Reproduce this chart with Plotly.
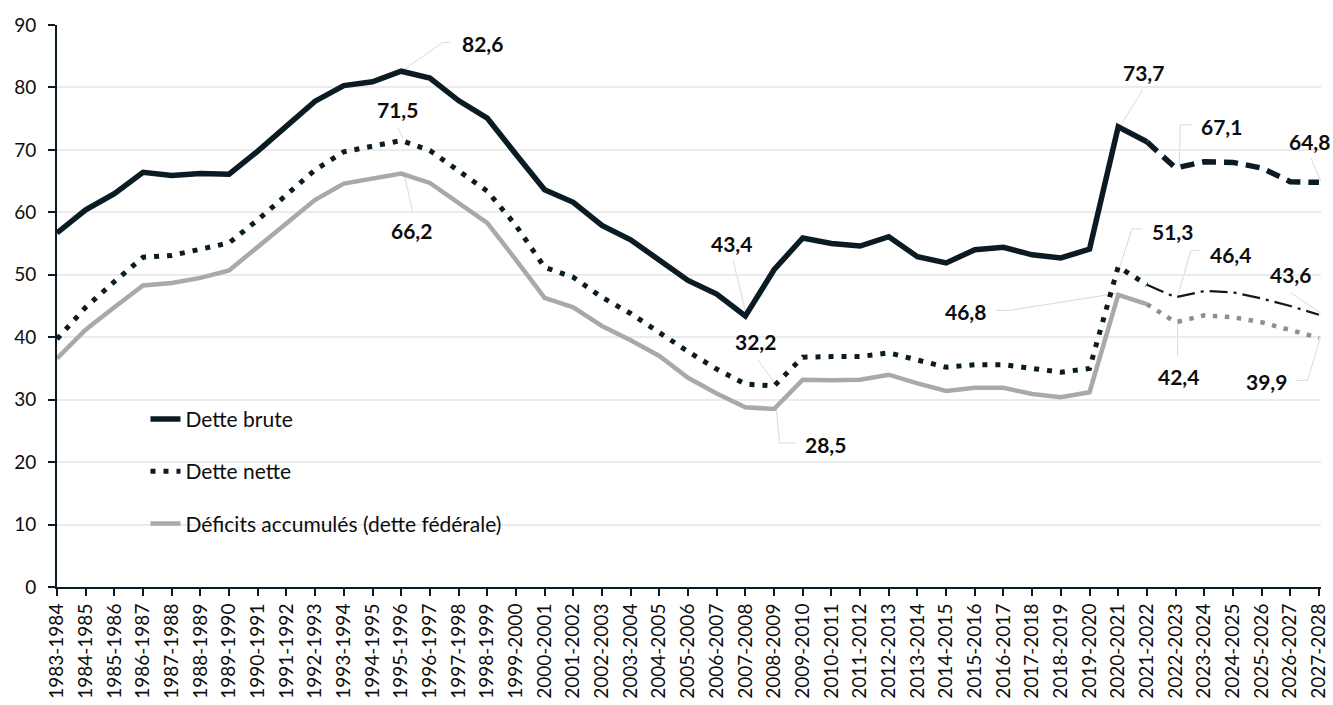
import plotly.graph_objects as go

categories = [
    "1983-1984", "1984-1985", "1985-1986", "1986-1987", "1987-1988", "1988-1989",
    "1989-1990", "1990-1991", "1991-1992", "1992-1993", "1993-1994", "1994-1995",
    "1995-1996", "1996-1997", "1997-1998", "1998-1999", "1999-2000", "2000-2001",
    "2001-2002", "2002-2003", "2003-2004", "2004-2005", "2005-2006", "2006-2007",
    "2007-2008", "2008-2009", "2009-2010", "2010-2011", "2011-2012", "2012-2013",
    "2013-2014", "2014-2015", "2015-2016", "2016-2017", "2017-2018", "2018-2019",
    "2019-2020", "2020-2021", "2021-2022", "2022-2023", "2023-2024", "2024-2025",
    "2025-2026", "2026-2027", "2027-2028",
]

dette_brute = [
    56.7, 60.4, 63.0, 66.4, 65.9, 66.2, 66.1, 69.8, 73.8, 77.8, 80.3, 80.9,
    82.6, 81.5, 77.9, 75.1, 69.3, 63.6, 61.6, 57.9, 55.6, 52.3, 49.1, 46.9,
    43.4, 50.8, 55.9, 55.0, 54.6, 56.1, 52.9, 51.9, 54.0, 54.4, 53.2, 52.7,
    54.1, 73.7, 71.3, 67.1, 68.1, 68.0, 67.1, 64.9, 64.8,
]

dette_nette = [
    39.7, 44.8, 48.9, 52.8, 53.1, 54.0, 55.1, 58.8, 62.8, 66.8, 69.7, 70.6,
    71.5, 69.9, 66.6, 63.4, 57.9, 51.2, 49.6, 46.4, 43.8, 40.7, 37.7, 34.9,
    32.5, 32.2, 36.8, 36.9, 36.9, 37.5, 36.4, 35.2, 35.6, 35.6, 35.0, 34.4,
    35.0, 51.3, 48.4, 46.4, 47.4, 47.2, 46.2, 45.0, 43.6,
]

deficits_accumules = [
    36.6, 41.2, 44.8, 48.3, 48.7, 49.5, 50.7, 54.4, 58.3, 62.0, 64.6, 65.4,
    66.2, 64.7, 61.4, 58.3, 52.4, 46.3, 44.8, 41.8, 39.5, 37.0, 33.5, 31.0,
    28.8, 28.5, 33.2, 33.1, 33.2, 34.0, 32.6, 31.4, 31.9, 31.9, 30.9, 30.4,
    31.2, 46.8, 45.3, 42.4, 43.5, 43.2, 42.4, 41.2, 39.9,
]

series_names = ["Dette brute", "Dette nette", "Déficits accumulés (dette fédérale)"]
y_ticks = [0, 10, 20, 30, 40, 50, 60, 70, 80, 90]

# last observed year index (projections start from here)
last_actual = categories.index("2021-2022")

DARK = "#0b1b24"
GREY = "#a9a9a9"
GREY_PROJ = "#8e8e8e"
FONT = "Lato"

fig = go.Figure()

# Dette brute
fig.add_trace(go.Scatter(
    x=categories[:last_actual + 1], y=dette_brute[:last_actual + 1],
    mode="lines", name=series_names[0], legendgroup="g1",
    line=dict(color=DARK, width=5.5),
))
fig.add_trace(go.Scatter(
    x=categories[last_actual:], y=dette_brute[last_actual:],
    mode="lines", showlegend=False, legendgroup="g1",
    line=dict(color=DARK, width=5.5, dash="14px,8px"),
))
# Dette nette
fig.add_trace(go.Scatter(
    x=categories[:last_actual + 1], y=dette_nette[:last_actual + 1],
    mode="lines", name=series_names[1], legendgroup="g2",
    line=dict(color=DARK, width=5, dash="5px,8px"),
))
fig.add_trace(go.Scatter(
    x=categories[last_actual:], y=dette_nette[last_actual:],
    mode="lines", showlegend=False, legendgroup="g2",
    line=dict(color=DARK, width=2.25, dash="18px,6px,3px,6px"),
))
# Deficits accumules
fig.add_trace(go.Scatter(
    x=categories[:last_actual + 1], y=deficits_accumules[:last_actual + 1],
    mode="lines", name=series_names[2], legendgroup="g3",
    line=dict(color=GREY, width=4.5),
))
fig.add_trace(go.Scatter(
    x=categories[last_actual:], y=deficits_accumules[last_actual:],
    mode="lines", showlegend=False, legendgroup="g3",
    line=dict(color=GREY_PROJ, width=4.5, dash="4.5px,7.5px"),
))

# Data labels: (series, category index, label dx, label dy, leader path points) in pixels
label_specs = [
    (dette_brute, 12, 81, 27.5, [(2.6, 1.5), (41.6, 28.8), (48.6, 28.8)]),
    (dette_nette, 12, -3.4, 31, [(-3.4, 12.6), (1.9, 2.6)]),
    (deficits_accumules, 12, 10.6, -56.7, [(3.6, -2.7), (11.3, -37.7)]),
    (dette_brute, 24, -13.8, 72.3, [(-12.5, 56.3), (0.9, 1.3)]),
    (dette_nette, 25, -18.5, 44.5, [(-16.2, 26.2), (0.5, 2.9)]),
    (deficits_accumules, 25, 51.5, -35.7, [(2.2, 1), (5.5, -34), (22.2, -34)]),
    (dette_brute, 37, 25, 54.4, [(2.8, 2.1), (24.4, 37.1)]),
    (dette_brute, 39, 46.2, 41.6, [(3.7, 1.6), (4.7, 43.3), (17, 43.3)]),
    (dette_brute, 44, -9.8, 41, [(1.9, 1), (-8.1, 24.4)]),
    (dette_nette, 37, 54, 35.3, [(1.1, -1.3), (13.8, 37.7), (24.4, 37.7)]),
    (dette_nette, 39, 54.7, 42.6, [(2, 0.9), (15.4, 46.9), (23.7, 46.9)]),
    (dette_nette, 44, -28.8, 40, [(-28.1, 21.8), (1.9, 1.8)]),
    (deficits_accumules, 37, -153, -16.6, [(-122.2, -15.6), (-108.9, -15.6), (1.1, 1.8)]),
    (deficits_accumules, 39, 2.7, -54.1, [(2, 0.9), (2, -34.1)]),
    (deficits_accumules, 44, -52.3, -43.5, [(-23.1, -42.5), (-11.5, -42.5), (1.9, 1.5)]),
]

annotations = []
shapes = []
for series, idx, dx, dy, pts in label_specs:
    val = series[idx]
    annotations.append(dict(
        x=categories[idx], y=val, xref="x", yref="y",
        text="<b>" + f"{val:.1f}".replace(".", ",") + "</b>",
        showarrow=False, xshift=dx, yshift=dy,
        xanchor="center", yanchor="middle",
        font=dict(family=FONT, size=21, color="#0d0d0d"),
    ))
    path = "M" + " L".join(f"{px},{py}" for px, py in pts)
    shapes.append(dict(
        type="path", path=path, xref="x", yref="y",
        xsizemode="pixel", ysizemode="pixel",
        xanchor=idx, yanchor=val,
        line=dict(color="#d9d9d9", width=1),
        layer="below",
    ))

fig.update_layout(
    width=1333, height=705,
    margin=dict(l=57, r=12, t=25, b=118, autoexpand=False),
    paper_bgcolor="white", plot_bgcolor="white",
    font=dict(family=FONT, size=19, color="#0d0d0d"),
    showlegend=True,
    legend=dict(
        x=0.07, y=0.335, xanchor="left", yanchor="top",
        font=dict(family=FONT, size=21, color="#0d0d0d"),
        bgcolor="rgba(0,0,0,0)", tracegroupgap=22,
    ),
    annotations=annotations,
    shapes=shapes,
    hovermode=False,
)

fig.update_xaxes(
    type="category", categoryorder="array", categoryarray=categories,
    range=[0, 44.07], showgrid=False, zeroline=False, automargin=False,
    showline=True, linecolor=DARK, linewidth=2,
    ticks="outside", ticklen=7, tickwidth=1.5, tickcolor=DARK,
    tickangle=-90, tickfont=dict(family=FONT, size=19, color="#0d0d0d"),
)
fig.update_yaxes(
    range=[0, 90], tickvals=y_ticks, showgrid=True, automargin=False,
    gridcolor="#ebebeb", gridwidth=1.5, zeroline=False,
    showline=True, linecolor=DARK, linewidth=2,
    ticks="outside", ticklen=7, tickwidth=1.5, tickcolor=DARK,
    tickfont=dict(family=FONT, size=19, color="#0d0d0d"),
    ticklabelstandoff=8,
)

fig.write_html("out.html", config={"displayModeBar": False},
               post_script="document.body.style.margin='0';")
